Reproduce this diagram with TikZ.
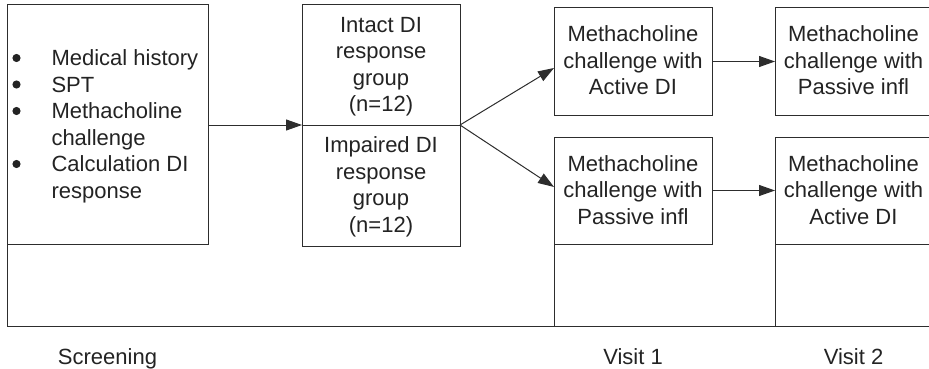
\documentclass[tikz,border=0pt]{standalone}
\usepackage{fontspec}
\setmainfont{Liberation Sans}
\usetikzlibrary{arrows.meta}
\definecolor{ln}{RGB}{45,45,45}
\definecolor{tx}{RGB}{35,35,35}
\begin{document}
\begin{tikzpicture}[x=1pt,y=-1pt,
  box/.style={draw=ln,line width=1pt,inner sep=0pt,outer sep=0pt,rectangle},
  txt/.style={inner sep=0pt,outer sep=0pt,text=tx,font=\fontsize{22}{26.5}\selectfont},
  dot/.style={circle,fill=tx,inner sep=0pt,outer sep=0pt,minimum size=8.2pt},
  arr/.style={draw=ln,line width=1pt,-{Triangle[length=16pt,width=11pt]}},
  frame/.style={draw=ln,line width=1pt}]
\clip (0,0) rectangle (929,369);
% boxes
\node[box,minimum width=201pt,minimum height=239pt] (leftbox) at (107.5,124.5) {};
\node[box,minimum width=158pt,minimum height=120pt] (grpA) at (381,65) {};
\node[box,minimum width=158pt,minimum height=121pt] (grpB) at (381,185.5) {};
\node[box,minimum width=158pt,minimum height=107pt] (v1a) at (633,61.5) {};
\node[box,minimum width=158pt,minimum height=107pt] (v1b) at (633,190.5) {};
\node[box,minimum width=157pt,minimum height=107pt] (v2a) at (853.5,61.5) {};
\node[box,minimum width=157pt,minimum height=107pt] (v2b) at (853.5,190.5) {};
% texts
\node[txt,anchor=west] (leftlist) at (51.5,126.7) {\begin{tabular}{@{}l@{}}
Medical history\\
SPT\\
Methacholine\\
challenge\\
Calculation DI\\
response
\end{tabular}};
\node[dot] (b1) at (16.5,58) {};
\node[dot] (b2) at (16.5,84.5) {};
\node[dot] (b3) at (16.5,111) {};
\node[dot] (b4) at (16.5,164) {};
\node[txt,yshift=-1.7pt] (grpAt) at (grpA.center) {\begin{tabular}{@{}c@{}}Intact DI\\response\\group\\(n=12)\end{tabular}};
\node[txt,yshift=-1.7pt] (grpBt) at (grpB.center) {\begin{tabular}{@{}c@{}}Impaired DI\\response\\group\\(n=12)\end{tabular}};
\node[txt,yshift=-1.7pt] (v1at) at (v1a.center) {\begin{tabular}{@{}c@{}}Methacholine\\challenge with\\Active DI\end{tabular}};
\node[txt,yshift=-1.7pt] (v1bt) at (v1b.center) {\begin{tabular}{@{}c@{}}Methacholine\\challenge with\\Passive infl\end{tabular}};
\node[txt,yshift=-1.7pt] (v2at) at (v2a.center) {\begin{tabular}{@{}c@{}}Methacholine\\challenge with\\Passive infl\end{tabular}};
\node[txt,yshift=-1.7pt] (v2bt) at (v2b.center) {\begin{tabular}{@{}c@{}}Methacholine\\challenge with\\Active DI\end{tabular}};
% bottom labels
\node[txt,anchor=base] (scr) at (107.5,364.3) {Screening};
\node[txt,anchor=base] (vis1) at (633,364.3) {Visit 1};
\node[txt,anchor=base] (vis2) at (853.5,364.3) {Visit 2};
% frame
\coordinate (fbl) at (7,326);
\coordinate (fbr) at (935,326);
\draw[frame] (leftbox.south west) -- (fbl) -- (fbr);
\draw[frame] (v1b.south west) -- (v1b.south west |- fbl);
\draw[frame] (v2b.south west) -- (v2b.south west |- fbl);
% connectors
\draw[arr] (leftbox.east |- grpA.south west) -- (grpA.south west);
\draw[arr] (grpA.south east) -- ([yshift=-6.5pt]v1a.west);
\draw[arr] (grpA.south east) -- ([yshift=3.5pt]v1b.west);
\draw[arr] (v1a.east) -- (v2a.west);
\draw[arr] (v1b.east) -- (v2b.west);
\end{tikzpicture}
\end{document}
